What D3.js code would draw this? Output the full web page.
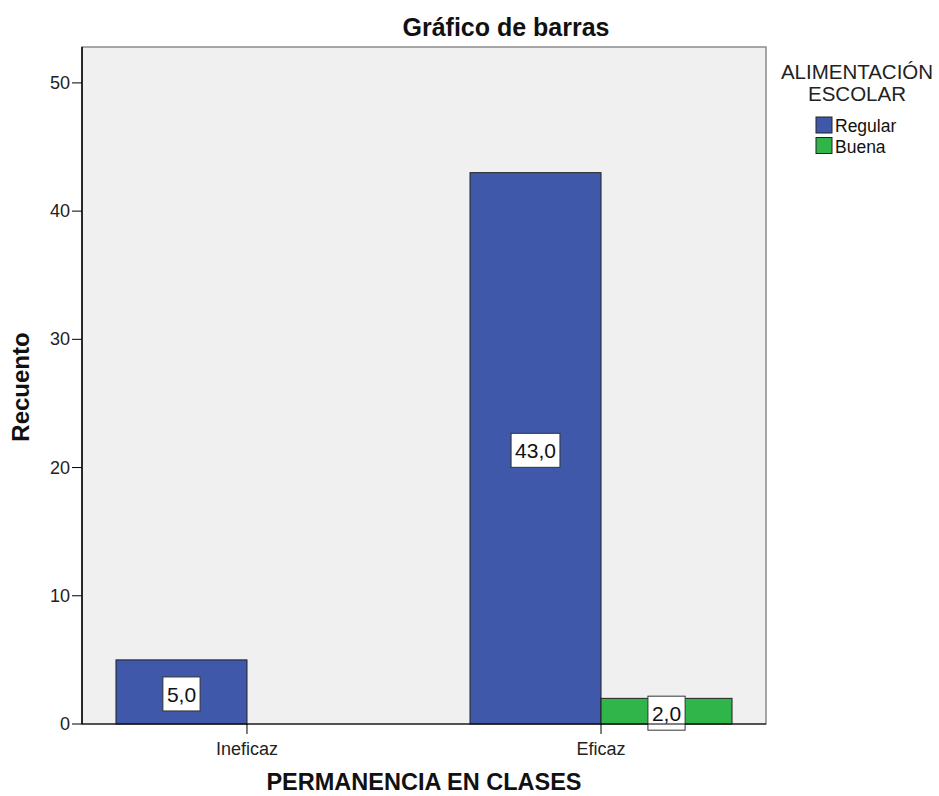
<!DOCTYPE html>
<html><head><meta charset="utf-8">
<script src="https://cdn.jsdelivr.net/npm/d3@7"></script>
<style>body{margin:0;background:#fff;} svg{display:block;font-family:Arial,"Liberation Sans",sans-serif;}</style>
</head><body>
<script>
const categories = ["Ineficaz", "Eficaz"];
const seriesNames = ["Regular", "Buena"];
const regular = [5, 43];
const buena = [0, 2];
const yTicks = [0, 10, 20, 30, 40, 50];
const colors = ["#3f58a9", "#2fb54a"];

const W = 939, H = 796;
const svg = d3.select("body").append("svg").attr("width", W).attr("height", H);
const L = 82, R = 766, T = 47, B = 724;

const y = d3.scaleLinear().domain([0, 52.8]).range([B, T]);
const x = d3.scalePoint().domain(categories).range([L, R]).padding(0.466);
const bw = 131;

svg.append("rect").attr("x", L).attr("y", T).attr("width", R - L).attr("height", B - T)
  .attr("fill", "#f0f0f0").attr("stroke", "#8a8a8a").attr("stroke-width", 1.5);

const series = [regular, buena];
series.forEach((vals, si) => {
  categories.forEach((c, ci) => {
    const v = vals[ci];
    if (!v) return;
    const x0 = x(c) - bw + si * bw;
    svg.append("rect").attr("x", x0).attr("y", y(v)).attr("width", bw).attr("height", y(0) - y(v))
      .attr("fill", colors[si]).attr("stroke", "#222").attr("stroke-width", 1);
  });
});

// labels
series.forEach((vals, si) => {
  categories.forEach((c, ci) => {
    const v = vals[ci];
    if (!v) return;
    const cx = x(c) - bw / 2 + si * bw;
    const cy = (y(v) + y(0)) / 2 + 2;
    const txt = v.toFixed(1).replace(".", ",");
    const g = svg.append("g");
    const t = g.append("text").attr("x", cx).attr("y", cy + 8).attr("text-anchor", "middle")
      .attr("font-size", 21).attr("fill", "#111").text(txt);
    const bb = t.node().getBBox();
    g.insert("rect", "text").attr("x", bb.x - 4).attr("y", cy - 17).attr("width", bb.width + 8).attr("height", 34)
      .attr("fill", "#fff").attr("stroke", "#333").attr("stroke-width", 1);
  });
});

// axes
svg.append("line").attr("x1", L).attr("x2", L).attr("y1", T).attr("y2", B).attr("stroke", "#000").attr("stroke-width", 1.5);
svg.append("line").attr("x1", L).attr("x2", R).attr("y1", B).attr("y2", B).attr("stroke", "#000").attr("stroke-width", 1);
yTicks.forEach(v => {
  svg.append("line").attr("x1", L - 10).attr("x2", L).attr("y1", y(v)).attr("y2", y(v)).attr("stroke", "#000");
  svg.append("text").attr("x", L - 12).attr("y", y(v) + 6).attr("text-anchor", "end")
    .attr("font-size", 18).attr("fill", "#222").text(v);
});
categories.forEach(c => {
  svg.append("line").attr("x1", x(c)).attr("x2", x(c)).attr("y1", B).attr("y2", B + 10).attr("stroke", "#000");
  svg.append("text").attr("x", x(c)).attr("y", B + 31).attr("text-anchor", "middle")
    .attr("font-size", 18).attr("fill", "#222").text(c);
});

svg.append("text").attr("x", 506).attr("y", 36).attr("text-anchor", "middle")
  .attr("font-size", 25).attr("font-weight", "bold").attr("fill", "#111").text("Gráfico de barras");
svg.append("text").attr("x", 424).attr("y", 790).attr("text-anchor", "middle")
  .attr("font-size", 23.5).attr("font-weight", "bold").attr("fill", "#111").text("PERMANENCIA EN CLASES");
svg.append("text").attr("transform", `translate(29,387) rotate(-90)`).attr("text-anchor", "middle")
  .attr("font-size", 24).attr("font-weight", "bold").attr("fill", "#111").text("Recuento");

// legend
svg.append("text").attr("x", 857).attr("y", 79).attr("text-anchor", "middle").attr("font-size", 20.5)
  .attr("fill", "#222").text("ALIMENTACIÓN");
svg.append("text").attr("x", 857).attr("y", 101).attr("text-anchor", "middle").attr("font-size", 20.5)
  .attr("fill", "#222").text("ESCOLAR");
seriesNames.forEach((n, i) => {
  const yy = 117 + i * 20.5;
  svg.append("rect").attr("x", 816).attr("y", yy).attr("width", 16).attr("height", 16)
    .attr("fill", colors[i]).attr("stroke", "#222");
  svg.append("text").attr("x", 835).attr("y", yy + 15).attr("font-size", 17.5).attr("fill", "#111").text(n);
});
</script>
</body></html>
